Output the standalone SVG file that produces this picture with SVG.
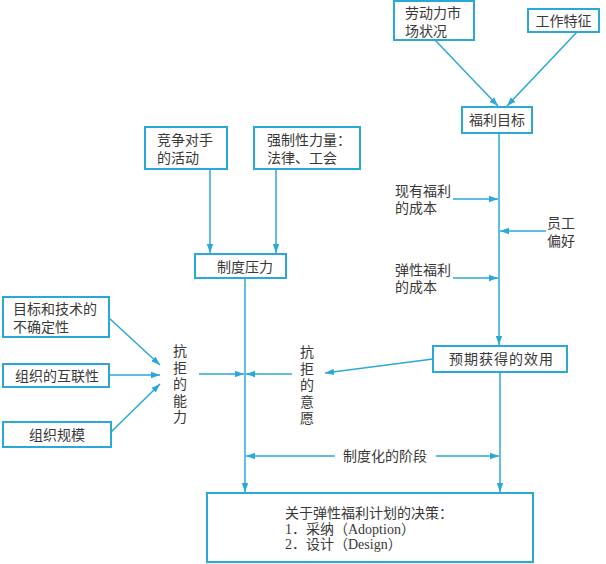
<svg xmlns="http://www.w3.org/2000/svg" width="606" height="564" viewBox="0 0 606 564">
<style>
.box{fill:#fff;stroke:#2aa8d8;stroke-width:2}
.ln{stroke:#2aa8d8;stroke-width:1.5;fill:none}
.t{font-family:"Noto Sans CJK SC","Noto Sans",sans-serif;font-size:14px;fill:#383838}
.c{text-anchor:middle}
.v{writing-mode:vertical-rl;letter-spacing:2.5px;font-size:14px}
.s{font-family:"Liberation Serif","Noto Sans CJK SC",serif;font-size:14px;fill:#383838}
</style>
<defs>
<marker id="ah" markerUnits="userSpaceOnUse" markerWidth="10" markerHeight="8" refX="9" refY="4" orient="auto">
<path d="M0,0.8 L9,4 L0,7.2 Z" fill="#2aa8d8"/>
</marker>
</defs>
<rect width="606" height="564" fill="#fff"/>

<g id="connectors">
<line class="ln" x1="435" y1="40" x2="498" y2="106" marker-end="url(#ah)"/>
<line class="ln" x1="577" y1="32" x2="507" y2="106" marker-end="url(#ah)"/>
<line class="ln" x1="499" y1="133" x2="499" y2="345" marker-end="url(#ah)"/>
<line class="ln" x1="453" y1="199" x2="498" y2="199" marker-end="url(#ah)"/>
<line class="ln" x1="546" y1="231" x2="500" y2="231" marker-end="url(#ah)"/>
<line class="ln" x1="453" y1="278" x2="498" y2="278" marker-end="url(#ah)"/>
<line class="ln" x1="210" y1="169" x2="210" y2="253" marker-end="url(#ah)"/>
<line class="ln" x1="276" y1="169" x2="276" y2="253" marker-end="url(#ah)"/>
<line class="ln" x1="245" y1="278" x2="245" y2="492" marker-end="url(#ah)"/>
<line class="ln" x1="109" y1="318" x2="160" y2="365" marker-end="url(#ah)"/>
<line class="ln" x1="109" y1="375" x2="160" y2="375" marker-end="url(#ah)"/>
<line class="ln" x1="111" y1="432" x2="160" y2="384" marker-end="url(#ah)"/>
<line class="ln" x1="199" y1="374" x2="244" y2="374" marker-end="url(#ah)"/>
<line class="ln" x1="292" y1="374" x2="246" y2="374" marker-end="url(#ah)"/>
<line class="ln" x1="433" y1="359" x2="325" y2="373" marker-end="url(#ah)"/>
<line class="ln" x1="500" y1="372" x2="500" y2="492" marker-end="url(#ah)"/>
<line class="ln" x1="335" y1="456" x2="246" y2="456" marker-end="url(#ah)"/>
<line class="ln" x1="436" y1="456" x2="499" y2="456" marker-end="url(#ah)"/>
</g>

<g id="n-labor-market">
<rect class="box" x="394" y="1" width="80" height="39"/>
<text class="t" x="405" y="18">劳动力市<tspan x="405" y="35.5">场状况</tspan></text>
</g>
<g id="n-job-features">
<rect class="box" x="528" y="9" width="71" height="23"/>
<text class="t c" x="563.5" y="25.5">工作特征</text>
</g>
<g id="n-benefit-goals">
<rect class="box" x="462" y="107" width="70" height="26"/>
<text class="t c" x="497" y="125">福利目标</text>
</g>
<g id="n-competitors">
<rect class="box" x="145" y="127" width="82" height="42"/>
<text class="t" x="157" y="145">竞争对手<tspan x="157" y="162.5">的活动</tspan></text>
</g>
<g id="n-coercive">
<rect class="box" x="254" y="127" width="106" height="42"/>
<text class="t" x="267" y="145">强制性力量：<tspan x="267" y="162.5">法律、工会</tspan></text>
</g>
<g id="n-inst-pressure">
<rect class="box" x="195" y="254" width="91" height="24"/>
<text class="t c" x="245" y="271.5">制度压力</text>
</g>
<g id="n-uncertainty">
<rect class="box" x="3" y="297" width="106" height="40"/>
<text class="t" x="13" y="314">目标和技术的<tspan x="13" y="331.5">不确定性</tspan></text>
</g>
<g id="n-interconnect">
<rect class="box" x="3" y="364" width="106" height="23"/>
<text class="t c" x="57" y="380.5">组织的互联性</text>
</g>
<g id="n-org-size">
<rect class="box" x="3" y="422" width="108" height="25"/>
<text class="t c" x="57" y="440">组织规模</text>
</g>
<g id="n-utility">
<rect class="box" x="433" y="346" width="134" height="26"/>
<text class="t" x="449" y="364" textLength="104" lengthAdjust="spacing">预期获得的效用</text>
</g>
<g id="n-decision">
<rect class="box" x="207" y="493" width="326" height="69"/>
<text class="s" x="285" y="518">关于弹性福利计划的决策：<tspan x="285" y="533.5">1．采纳（Adoption）</tspan><tspan x="285" y="549">2．设计（Design）</tspan></text>
</g>

<g id="labels">
<text class="t" x="395" y="195.5">现有福利<tspan x="395" y="213">的成本</tspan></text>
<text class="t" x="547" y="228">员工<tspan x="547" y="245.5">偏好</tspan></text>
<text class="t" x="395" y="274.5">弹性福利<tspan x="395" y="292">的成本</tspan></text>
<text class="t v" x="180" y="344">抗拒的能力</text>
<text class="t v" x="307" y="345">抗拒的意愿</text>
<text class="t c" x="385" y="461">制度化的阶段</text>
</g>
</svg>
